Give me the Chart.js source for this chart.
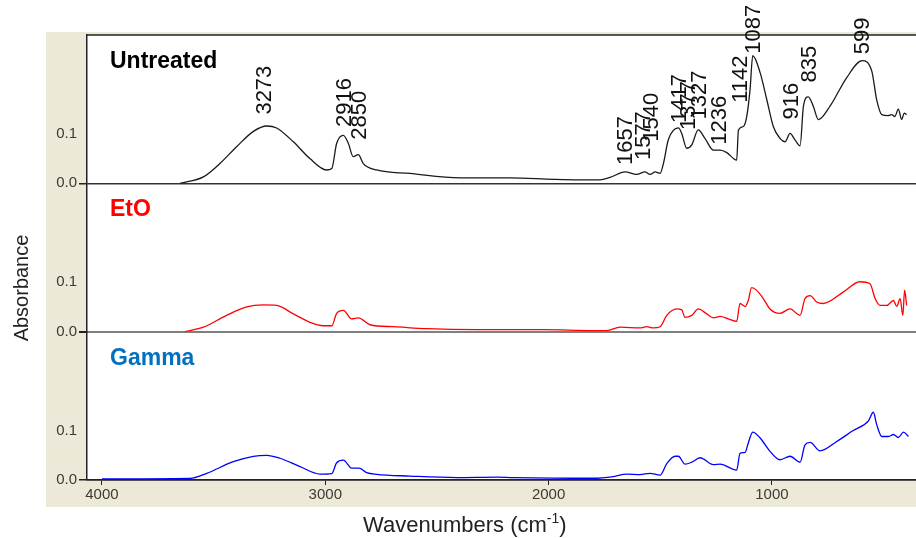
<!DOCTYPE html>
<html>
<head>
<meta charset="utf-8">
<script src="https://cdn.jsdelivr.net/npm/chart.js@4.4.1/dist/chart.umd.min.js"></script>
<style>
  html, body { margin: 0; padding: 0; background: #fff; }
  #wrap { width: 916px; height: 538px; position: relative; }
</style>
</head>
<body>
<div id="wrap"><canvas id="ftir"></canvas></div>
<script>
// wavenumbers (cm-1) and absorbance
const untreatedWn = [3651, 3546, 3472, 3397, 3322, 3262, 3218, 3143, 3069, 2994, 2971, 2949, 2919, 2897, 2875, 2852, 2830, 2770, 2621, 2397, 2173, 1979, 1859, 1770, 1725, 1658, 1606, 1568, 1546, 1523, 1501, 1486, 1464, 1419, 1404, 1382, 1359, 1330, 1300, 1262, 1232, 1202, 1158, 1150, 1128, 1113, 1098, 1086, 1053, 1023, 994, 964, 941, 919, 897, 874, 859, 837, 815, 792, 740, 665, 596, 553, 531, 508, 480, 464, 450, 434, 419, 408, 397];
const untreatedAbs = [0.0, 0.013, 0.040, 0.074, 0.105, 0.116, 0.112, 0.084, 0.050, 0.027, 0.030, 0.081, 0.097, 0.081, 0.054, 0.058, 0.040, 0.027, 0.020, 0.011, 0.011, 0.008, 0.007, 0.007, 0.012, 0.023, 0.018, 0.023, 0.018, 0.023, 0.020, 0.040, 0.088, 0.112, 0.101, 0.071, 0.078, 0.108, 0.091, 0.067, 0.067, 0.062, 0.047, 0.108, 0.115, 0.135, 0.190, 0.258, 0.224, 0.169, 0.115, 0.091, 0.084, 0.101, 0.088, 0.076, 0.156, 0.175, 0.156, 0.129, 0.156, 0.214, 0.248, 0.227, 0.169, 0.139, 0.137, 0.139, 0.135, 0.150, 0.129, 0.142, 0.139];

const etoWn = [3628, 3546, 3442, 3352, 3278, 3218, 3143, 3069, 3009, 2971, 2949, 2919, 2882, 2852, 2800, 2695, 2546, 2322, 2024, 1800, 1740, 1680, 1591, 1561, 1531, 1501, 1471, 1427, 1404, 1389, 1359, 1330, 1292, 1262, 1232, 1195, 1158, 1143, 1120, 1106, 1091, 1069, 1039, 1009, 964, 919, 874, 852, 829, 800, 770, 681, 606, 561, 538, 516, 486, 456, 441, 426, 414, 406, 397];
const etoAbs = [0.0, 0.009, 0.033, 0.050, 0.054, 0.053, 0.036, 0.019, 0.012, 0.012, 0.037, 0.043, 0.026, 0.028, 0.014, 0.010, 0.006, 0.004, 0.004, 0.002, 0.002, 0.009, 0.0075, 0.010, 0.0075, 0.010, 0.033, 0.046, 0.044, 0.029, 0.033, 0.046, 0.036, 0.028, 0.031, 0.026, 0.021, 0.057, 0.051, 0.063, 0.089, 0.084, 0.067, 0.046, 0.037, 0.046, 0.033, 0.067, 0.073, 0.060, 0.057, 0.080, 0.101, 0.097, 0.067, 0.053, 0.053, 0.063, 0.051, 0.067, 0.033, 0.084, 0.053];

const gammaWn = [4000, 3606, 3531, 3412, 3322, 3262, 3203, 3113, 3024, 2971, 2949, 2919, 2882, 2849, 2815, 2770, 2621, 2412, 2232, 2158, 1800, 1710, 1651, 1591, 1546, 1501, 1471, 1434, 1419, 1389, 1359, 1322, 1262, 1232, 1158, 1143, 1120, 1106, 1086, 1053, 1009, 964, 919, 874, 852, 829, 785, 710, 636, 569, 546, 531, 508, 478, 456, 434, 411, 389];
const gammaAbs = [0.002, 0.003, 0.0135, 0.037, 0.048, 0.050, 0.044, 0.027, 0.012, 0.013, 0.035, 0.040, 0.024, 0.024, 0.015, 0.0115, 0.008, 0.005, 0.006, 0.005, 0.0035, 0.007, 0.012, 0.011, 0.0136, 0.010, 0.033, 0.048, 0.048, 0.032, 0.036, 0.045, 0.031, 0.032, 0.020, 0.054, 0.056, 0.075, 0.097, 0.085, 0.058, 0.041, 0.048, 0.036, 0.071, 0.076, 0.059, 0.078, 0.100, 0.119, 0.137, 0.112, 0.088, 0.088, 0.092, 0.086, 0.097, 0.088];

// peak annotations on the untreated spectrum (label start height in absorbance)
const peakWn = [3273, 2916, 2850, 1657, 1577, 1540, 1417, 1377, 1327, 1236, 1142, 1087, 916, 835, 599];
const peakLabelAbs = [0.139, 0.114, 0.088, 0.037, 0.047, 0.084, 0.122, 0.108, 0.129, 0.078, 0.163, 0.262, 0.129, 0.204, 0.261];

const xTicks = [4000, 3000, 2000, 1000];
const yTicks = [0, 0.1];
const panelNames = ['Untreated', 'EtO', 'Gamma'];
const panelColors = ['#000000', '#ff0000', '#0070c0'];

function toPoints(wn, abs) {
  return wn.map((w, i) => ({x: w, y: abs[i]}));
}

const FONT = '"Liberation Sans", Arial, sans-serif';

function panelAxis(zeroColor, zeroWidth) {
  return {
    type: 'linear',
    position: 'left',
    stack: 'panels',
    stackWeight: 1,
    min: 0,
    max: 0.3,
    afterBuildTicks: s => { s.ticks = yTicks.map(v => ({value: v})); },
    afterFit: s => { s.width = 87; },
    ticks: {
      color: '#3b3b33',
      padding: 2,
      font: {family: FONT, size: 15},
      callback: v => v.toFixed(1)
    },
    grid: {
      tickLength: 8,
      tickColor: '#222',
      color: c => c.tick && c.tick.value === 0 ? zeroColor : 'rgba(0,0,0,0)',
      lineWidth: c => c.tick && c.tick.value === 0 ? zeroWidth : 0
    },
    border: {display: true, color: '#222', width: 1.5}
  };
}

const decor = {
  id: 'decor',
  beforeDraw(chart) {
    const {ctx, chartArea: a} = chart;
    ctx.save();
    ctx.fillStyle = '#ffffff';
    ctx.fillRect(0, 0, chart.width, chart.height);
    ctx.fillStyle = '#ece9d8';
    ctx.fillRect(a.left - 41, a.top - 3, chart.width - (a.left - 41), a.bottom - a.top + 30);
    ctx.fillStyle = '#ffffff';
    ctx.fillRect(a.left, a.top, a.right - a.left, a.bottom - a.top);
    ctx.restore();
  },
  afterDraw(chart) {
    const {ctx, chartArea: a, scales} = chart;
    ctx.save();
    // top frame line
    ctx.strokeStyle = '#222';
    ctx.lineWidth = 1.5;
    ctx.beginPath();
    ctx.moveTo(a.left, a.top);
    ctx.lineTo(a.right, a.top);
    ctx.stroke();

    // panel names
    const ids = ['yUntreated', 'yEtO', 'yGamma'];
    ctx.font = 'bold 23px ' + FONT;
    ctx.textAlign = 'left';
    ctx.textBaseline = 'alphabetic';
    ids.forEach((id, i) => {
      ctx.fillStyle = panelColors[i];
      ctx.fillText(panelNames[i], a.left + 23, scales[id].top + 33);
    });

    // peak labels
    ctx.fillStyle = '#111';
    ctx.font = '22px ' + FONT;
    ctx.textBaseline = 'middle';
    peakWn.forEach((w, i) => {
      const px = scales.x.getPixelForValue(w);
      const py = scales.yUntreated.getPixelForValue(peakLabelAbs[i]);
      ctx.save();
      ctx.translate(px, py);
      ctx.rotate(-Math.PI / 2);
      ctx.fillText(String(w), 0, 1);
      ctx.restore();
    });

    // y title
    ctx.fillStyle = '#222';
    ctx.font = '20px ' + FONT;
    ctx.textAlign = 'center';
    ctx.save();
    ctx.translate(22, 288);
    ctx.rotate(-Math.PI / 2);
    ctx.fillText('Absorbance', 0, 0);
    ctx.restore();

    // x title with superscript
    ctx.textAlign = 'left';
    ctx.textBaseline = 'alphabetic';
    const base = 'Wavenumbers (cm';
    let tx = 363;
    const ty = 532;
    ctx.font = '22px ' + FONT;
    ctx.fillText(base, tx, ty);
    tx += ctx.measureText(base).width;
    ctx.font = '14px ' + FONT;
    ctx.fillText('-1', tx, ty - 9);
    tx += ctx.measureText('-1').width;
    ctx.font = '22px ' + FONT;
    ctx.fillText(')', tx, ty);
    ctx.restore();
  }
};

new Chart(document.getElementById('ftir').getContext('2d'), {
  type: 'line',
  data: {
    datasets: [
      {label: 'Untreated', data: toPoints(untreatedWn, untreatedAbs), yAxisID: 'yUntreated', borderColor: '#1a1a1a'},
      {label: 'EtO', data: toPoints(etoWn, etoAbs), yAxisID: 'yEtO', borderColor: '#ff0000'},
      {label: 'Gamma', data: toPoints(gammaWn, gammaAbs), yAxisID: 'yGamma', borderColor: '#0000ff'}
    ]
  },
  options: {
    responsive: true,
    maintainAspectRatio: false,
    animation: false,
    layout: {padding: {top: 35, left: 0, right: 0, bottom: 0}},
    elements: {
      point: {radius: 0},
      line: {borderWidth: 1.3, fill: false, cubicInterpolationMode: 'monotone'}
    },
    plugins: {legend: {display: false}, tooltip: {enabled: false}},
    scales: {
      x: {
        type: 'linear',
        reverse: true,
        min: 355,
        max: 4067,
        afterBuildTicks: s => { s.ticks = xTicks.map(v => ({value: v})); },
        afterFit: s => { s.height = 58; },
        ticks: {color: '#3b3b33', padding: 1, maxRotation: 0, font: {family: FONT, size: 15}, callback: v => String(v)},
        grid: {drawOnChartArea: false, tickLength: 5, tickColor: '#222'},
        border: {display: true, color: '#222', width: 1.5}
      },
      yGamma: panelAxis('#222', 1.5),
      yEtO: panelAxis('#808080', 2),
      yUntreated: panelAxis('#333', 1.5)
    }
  },
  plugins: [decor]
});
</script>
</body>
</html>
